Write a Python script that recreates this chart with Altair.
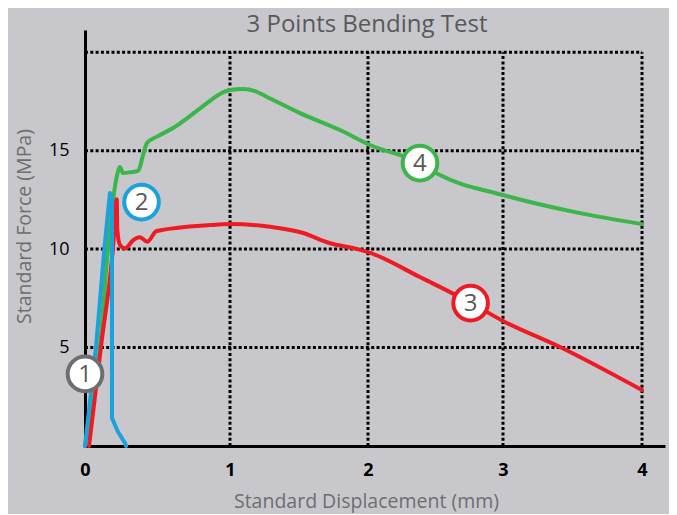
import altair as alt
import pandas as pd

# ---- data ----
x_ticks = [0, 1, 2, 3, 4]
y_ticks = [5, 10, 15]
grid_x = [1, 2, 3, 4]
grid_y = [5, 10, 15, 20]

green_x = [0.0, 0.103, 0.159, 0.214, 0.241, 0.262, 0.31, 0.366, 0.379, 0.40, 0.428, 0.503, 0.607,
           0.724, 0.841, 0.931, 1.0, 1.094, 1.181, 1.268, 1.507, 1.797, 2.015, 2.385, 2.533, 3.0,
           3.554, 4.0]
green_y = [0.0, 5.03, 10.06, 13.5, 14.17, 13.87, 13.9, 13.97, 14.17, 14.78, 15.39, 15.74, 16.15,
           16.76, 17.42, 17.88, 18.08, 18.13, 18.03, 17.73, 16.91, 16.05, 15.29, 14.37, 13.76, 12.75,
           11.83, 11.27]

red_x = [0.028, 0.11, 0.193, 0.219, 0.223, 0.241, 0.276, 0.333, 0.379, 0.43, 0.494, 0.862, 1.0,
         1.29, 1.53, 1.72, 1.93, 2.0, 2.385, 2.763, 3.0, 3.41, 4.0]
red_y = [0.0, 5.03, 10.06, 12.53, 10.97, 10.21, 10.04, 10.46, 10.6, 10.38, 10.92, 11.22, 11.27,
         11.14, 10.82, 10.31, 9.99, 9.85, 8.58, 7.26, 6.35, 5.03, 2.84]

blue_x = [0.0, 0.076, 0.134, 0.172, 0.186, 0.186, 0.228, 0.276, 0.283]
blue_y = [0.0, 5.03, 10.06, 12.85, 12.49, 1.42, 0.71, 0.15, 0.0]

label_names = ["1", "2", "3", "4"]
label_x = [0.0, 0.39, 2.76, 2.385]
label_y = [3.66, 12.39, 7.26, 14.37]
label_colors = ["#6d6e71", "#1ba1db", "#ed1c24", "#3cb54a"]

series_names = ["green", "red", "blue"]
series_colors = ["#3cb54a", "#ed1c24", "#1ba1db"]

# ---- tables ----
def series_table(pairs):
    rows = []
    for name, xs, ys in pairs:
        for i, (a, b) in enumerate(zip(xs, ys)):
            rows.append({"series": name, "order": i, "x": a, "y": b})
    return pd.DataFrame(rows)

smooth_df = series_table([("green", green_x, green_y), ("red", red_x, red_y)])
blue_df = series_table([("blue", blue_x, blue_y)])
labels_df = pd.DataFrame({"name": label_names, "x": label_x, "y": label_y})
vgrid_df = pd.DataFrame({"gx": grid_x})
hgrid_df = pd.DataFrame({"gy": grid_y})

xscale = alt.Scale(domain=[0, 1, 2, 3, 4, 4.18], range=[0, 145, 283, 418, 557, 580],
                   nice=False, zero=False)
yscale = alt.Scale(domain=[0, 21.13], nice=False, zero=False)
cscale = alt.Scale(domain=series_names, range=series_colors)

xaxis = alt.Axis(values=x_ticks, grid=False, ticks=False, domainColor="black", domainWidth=3,
                 labelColor="black", labelFont="Open Sans", labelFontSize=18,
                 labelFontWeight="bold", labelPadding=15, labelFlush=False, labelOverlap=False,
                 titleFont="Open Sans", titleFontSize=19.5, titleFontWeight="normal",
                 titleColor="#6d6e71", titleX=281, titleY=61, titleBaseline="alphabetic",
                 titleAlign="center", format="d")
yaxis = alt.Axis(values=y_ticks, grid=False, ticks=False, domainColor="black", domainWidth=3,
                 labelColor="black", labelFont="Open Sans", labelFontSize=18,
                 labelFontWeight="normal", labelPadding=16, labelFlush=False, labelOverlap=False,
                 titleFont="Open Sans", titleFontSize=19.5, titleFontWeight="normal",
                 titleColor="#6d6e71", titleX=-61, titleY=196, titleBaseline="middle",
                 titleAlign="center", format="d")

XT = "Standard Displacement (mm)"
YT = "Standard Force (MPa)"

vgrid = alt.Chart(vgrid_df).mark_rule(color="black", strokeWidth=3, strokeDash=[3, 2.3]).encode(
    x=alt.X("gx:Q", scale=xscale, axis=xaxis, title=XT),
    y=alt.datum(0, scale=yscale, axis=yaxis, title=YT),
    y2=alt.datum(20),
)
hgrid = alt.Chart(hgrid_df).mark_rule(color="black", strokeWidth=3, strokeDash=[3, 2.3]).encode(
    y=alt.Y("gy:Q", scale=yscale, axis=yaxis, title=YT),
    x=alt.datum(0, scale=xscale, axis=xaxis, title=XT),
    x2=alt.datum(4),
)

smooth = alt.Chart(smooth_df).mark_line(strokeWidth=4, strokeJoin="round", strokeCap="round",
                                        interpolate="monotone").encode(
    x=alt.X("x:Q", scale=xscale, axis=xaxis, title=XT),
    y=alt.Y("y:Q", scale=yscale, axis=yaxis, title=YT),
    color=alt.Color("series:N", scale=cscale, legend=None),
    order="order:Q",
)
blue = alt.Chart(blue_df).mark_line(strokeWidth=4, strokeJoin="round", strokeCap="round").encode(
    x=alt.X("x:Q", scale=xscale, axis=xaxis, title=XT),
    y=alt.Y("y:Q", scale=yscale, axis=yaxis, title=YT),
    color=alt.Color("series:N", scale=cscale, legend=None),
    order="order:Q",
)

circles = alt.Chart(labels_df).mark_point(shape="circle", fill="white", fillOpacity=1, opacity=1,
                                          strokeWidth=4, size=1200).encode(
    x=alt.X("x:Q", scale=xscale, axis=xaxis, title=XT),
    y=alt.Y("y:Q", scale=yscale, axis=yaxis, title=YT),
    stroke=alt.Stroke("name:N", scale=alt.Scale(domain=label_names, range=label_colors),
                      legend=None),
)

texts = alt.Chart(labels_df).mark_text(fontSize=24, font="Open Sans", color="#58595b",
                                       align="center", baseline="middle", dy=1).encode(
    x=alt.X("x:Q", scale=xscale, axis=xaxis, title=XT),
    y=alt.Y("y:Q", scale=yscale, axis=yaxis, title=YT),
    text="name:N",
)

chart = alt.layer(vgrid, hgrid, smooth, blue, circles, texts).properties(
    width=580,
    height=416,
    title=alt.TitleParams("3 Points Bending Test", fontSize=24, font="Open Sans",
                          color="#58595b", fontWeight="normal", anchor="middle", dx=-8,
                          dy=29, offset=3, baseline="alphabetic"),
    autosize=alt.AutoSizeParams(type="none"),
    padding={"left": 77, "top": 22, "right": 4, "bottom": 68},
    background="#c8c8cc",
).resolve_scale(stroke="independent").configure_view(stroke=None)

chart.save("out.html", embed_options={"renderer": "svg", "actions": False})
